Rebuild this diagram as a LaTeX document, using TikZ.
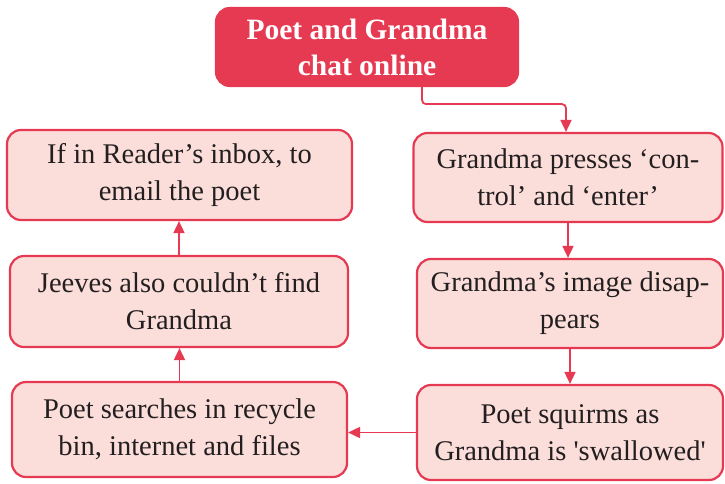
\documentclass[tikz,border=0pt]{standalone}
\usepackage{fontspec}
\setmainfont[Ligatures=TeXOff]{Liberation Serif}
\usetikzlibrary{arrows.meta}
\definecolor{redc}{HTML}{E63A52}
\definecolor{pinkc}{HTML}{FBDEDA}
\definecolor{textc}{HTML}{231F20}
\begin{document}
\begin{tikzpicture}[x=1pt,y=-1pt,
  box/.style={draw=redc, fill=pinkc, line width=2.2pt, rounded corners=14pt,
    align=center, text=textc, inner sep=0pt, font=\fontsize{28.5}{37}\selectfont},
  topbox/.style={draw=redc, fill=redc, line width=2.2pt, rounded corners=14pt,
    align=center, text=white, inner sep=0pt, font=\bfseries\fontsize{29.5}{36}\selectfont},
  arr/.style={draw=redc, line width=1.8pt, -{Triangle[length=12pt,width=11pt]}}]
\useasboundingbox (0,0) rectangle (725,484);
\node[topbox, minimum width=302pt, minimum height=78pt] (top) at (367,47) {Poet and Grandma\\chat online};
\node[box, minimum width=309pt, minimum height=89pt] (R1) at (568,177.5) {Grandma presses ‘con-\\trol’ and ‘enter’};
\node[box, minimum width=306pt, minimum height=89pt] (R2) at (570,303.5) {Grandma’s image disap-\\pears};
\node[box, minimum width=306pt, minimum height=95pt] (R3) at (570,432.5) {Poet squirms as\\Grandma is 'swallowed'};
\node[box, minimum width=345pt, minimum height=90pt] (L1) at (179.5,175) {If in Reader’s inbox, to\\email the poet};
\node[box, minimum width=338pt, minimum height=91pt] (L2) at (179,301.5) {Jeeves also couldn’t find\\Grandma};
\node[box, minimum width=335pt, minimum height=95pt] (L3) at (179.5,429.5) {Poet searches in recycle\\bin, internet and files};
\draw[arr, rounded corners=4pt] ([xshift=55pt]top.south) -- ++(0,17) -| ([xshift=-2pt]R1.north);
\draw[arr] (R1.south) -- (R1.south |- R2.north);
\draw[arr] (R2.south) -- (R2.south |- R3.north);
\draw[arr] (R3.west) -- (R3.west -| L3.east);
\draw[arr] (L3.north) -- (L3.north |- L2.south);
\draw[arr] (L2.north) -- (L2.north |- L1.south);
\end{tikzpicture}
\end{document}
